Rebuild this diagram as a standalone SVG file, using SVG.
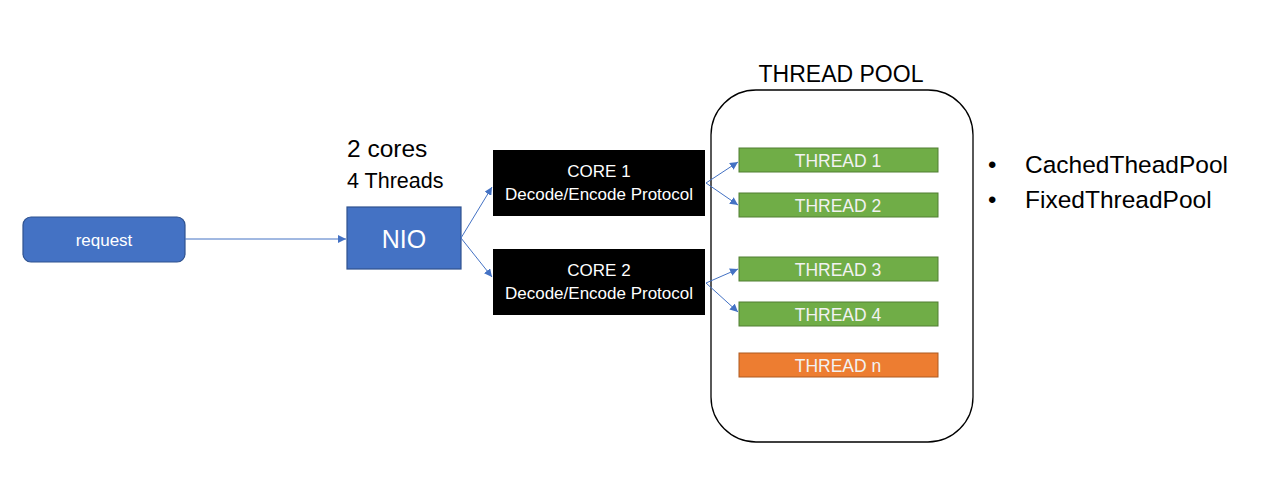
<svg xmlns="http://www.w3.org/2000/svg" width="1280" height="498" viewBox="0 0 1280 498">
<defs>
<style>
text{font-family:"Liberation Sans",Arial,sans-serif}
.blue{fill:#4472C4;stroke:#2F528F;stroke-width:1.2}
.core{fill:#000}
.thr{fill:#70AD47;stroke:#507E32;stroke-width:1}
.thn{fill:#ED7D31;stroke:#AE5A21;stroke-width:1}
.wt{fill:#fff;text-anchor:middle}
.tt{fill:#F2F2F2;text-anchor:middle;font-size:17.5px}
.bk{fill:#000}
.conn{stroke:#4472C4;stroke-width:1;fill:none;marker-end:url(#ah)}
</style>
<marker id="ah" viewBox="0 0 10 10" refX="10" refY="5" markerWidth="8" markerHeight="8" orient="auto" markerUnits="userSpaceOnUse">
<path d="M0,0 L10,5 L0,10 z" fill="#4472C4"/>
</marker>
</defs>
<rect width="1280" height="498" fill="#fff"/>
<g id="pool">
<rect x="711" y="90" width="262" height="352" rx="45" fill="#fff" stroke="#000" stroke-width="1.3"/>
<text x="841" y="82" class="bk" font-size="23" text-anchor="middle">THREAD POOL</text>
</g>
<g id="request">
<rect class="blue" x="23" y="217" width="162" height="45" rx="8"/>
<text class="wt" x="104" y="246" font-size="17">request</text>
</g>
<g id="nio">
<rect class="blue" x="347" y="207" width="114" height="62"/>
<text class="wt" x="404" y="248" font-size="25">NIO</text>
</g>
<g id="label-cores">
<text x="347" y="157" class="bk" font-size="24.5">2 cores</text>
<text x="347" y="188" class="bk" font-size="21.5">4 Threads</text>
</g>
<g id="core1">
<rect class="core" x="493" y="150" width="212" height="66"/>
<text class="wt" x="599" y="177" font-size="17">CORE 1</text>
<text class="wt" x="599" y="200" font-size="17">Decode/Encode Protocol</text>
</g>
<g id="core2">
<rect class="core" x="493" y="249" width="212" height="66"/>
<text class="wt" x="599" y="276" font-size="17">CORE 2</text>
<text class="wt" x="599" y="299" font-size="17">Decode/Encode Protocol</text>
</g>
<g id="thread1">
<rect class="thr" x="739" y="148" width="199" height="24"/>
<text class="tt" x="838" y="167">THREAD 1</text>
</g>
<g id="thread2">
<rect class="thr" x="739" y="193" width="199" height="24"/>
<text class="tt" x="838" y="212">THREAD 2</text>
</g>
<g id="thread3">
<rect class="thr" x="739" y="257" width="199" height="24"/>
<text class="tt" x="838" y="276">THREAD 3</text>
</g>
<g id="thread4">
<rect class="thr" x="739" y="302" width="199" height="24"/>
<text class="tt" x="838" y="321">THREAD 4</text>
</g>
<g id="threadn">
<rect class="thn" x="739" y="353" width="199" height="24"/>
<text class="tt" x="838" y="372">THREAD n</text>
</g>
<g id="bullets">
<text x="988" y="173" class="bk" font-size="24">•</text>
<text x="1025" y="173" class="bk" font-size="24.5">CachedTheadPool</text>
<text x="988" y="208" class="bk" font-size="24">•</text>
<text x="1025" y="208" class="bk" font-size="24.5">FixedThreadPool</text>
</g>
<g id="connectors">
<line class="conn" x1="185" y1="239" x2="346" y2="239"/>
<line class="conn" x1="461" y1="238" x2="492" y2="187"/>
<line class="conn" x1="461" y1="238" x2="492" y2="277"/>
<line class="conn" x1="706" y1="183" x2="738" y2="162"/>
<line class="conn" x1="706" y1="183" x2="738" y2="205"/>
<line class="conn" x1="706" y1="283" x2="738" y2="269"/>
<line class="conn" x1="706" y1="283" x2="738" y2="312"/>
</g>
</svg>
